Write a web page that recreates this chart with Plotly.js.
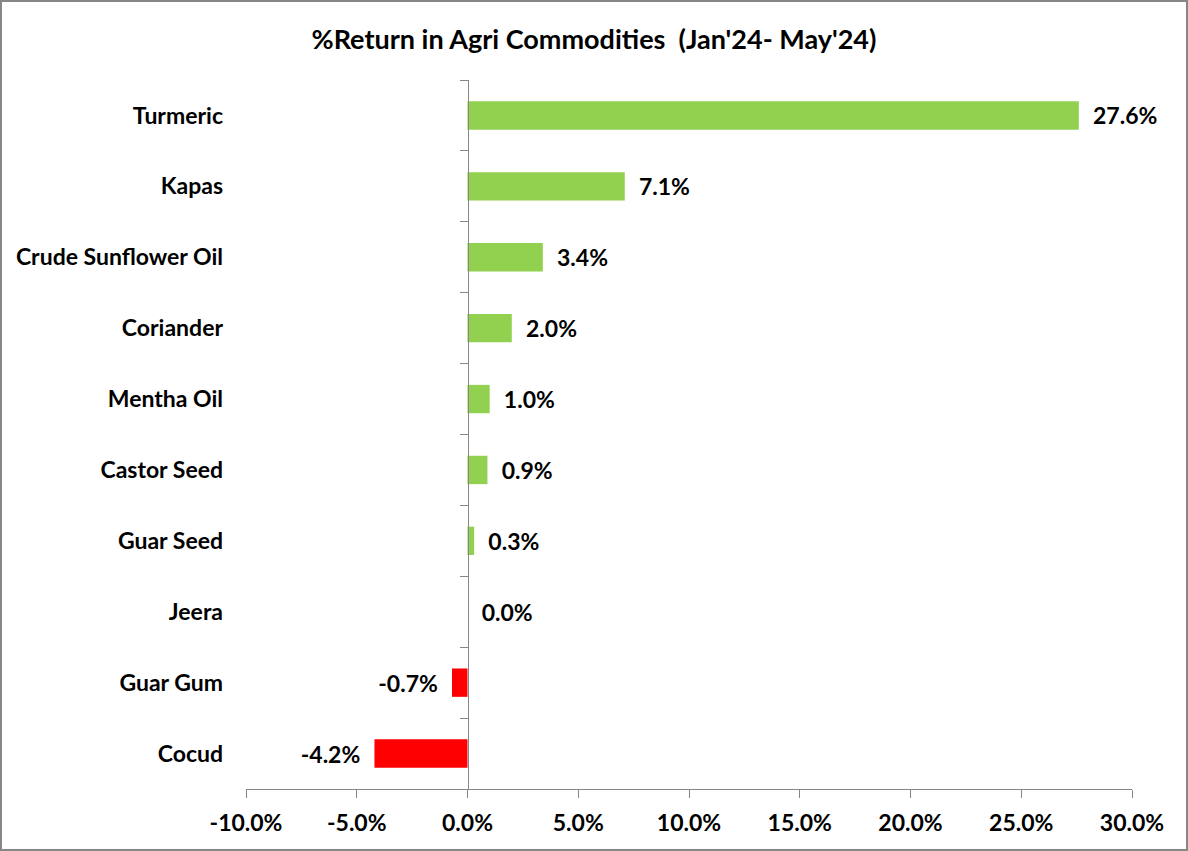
<!DOCTYPE html>
<html>
<head>
<meta charset="utf-8">
<script src="https://cdn.plot.ly/plotly-3.0.1.min.js"></script>
<style>
  html, body { margin: 0; padding: 0; background: #fff; }
  #chart { width: 1188px; height: 851px; box-sizing: border-box; border: 2px solid #878787; }
</style>
</head>
<body>
<div id="chart"></div>
<script>
const categories = ["Turmeric", "Kapas", "Crude Sunflower Oil", "Coriander", "Mentha Oil", "Castor Seed", "Guar Seed", "Jeera", "Guar Gum", "Cocud"];
const returns = [27.6, 7.1, 3.4, 2.0, 1.0, 0.9, 0.3, 0.0, -0.7, -4.2];
const xTicks = [-10, -5, 0, 5, 10, 15, 20, 25, 30];
const titleText = "%Return in Agri Commodities \u00a0(Jan'24- May'24)";

const colors = returns.map(v => v < 0 ? "#FF0000" : "#92D050");
const fontFam = "Lato, 'Open Sans', sans-serif";
const pad = "\u00a0\u00a0";

const traces = [
  {
    type: "bar",
    orientation: "h",
    x: returns,
    y: categories,
    marker: { color: colors },
    text: returns.map(v => v < 0 ? v.toFixed(1) + "%" + pad : pad + v.toFixed(1) + "%"),
    textposition: "outside",
    cliponaxis: false,
    textfont: { family: fontFam, size: 23, color: "#000", weight: "bold" },
    hoverinfo: "skip",
    showlegend: false
  },
  {
    type: "scatter",
    mode: "markers",
    x: returns.map(() => 0),
    y: categories,
    yaxis: "y2",
    marker: { opacity: 0, size: 1 },
    hoverinfo: "skip",
    showlegend: false
  }
];

const layout = {
  width: 1184,
  height: 847,
  margin: { l: 244, r: 54, t: 78, b: 60 },
  paper_bgcolor: "#fff",
  plot_bgcolor: "#fff",
  bargap: 0.6,
  font: { family: fontFam, color: "#000" },
  title: {
    text: "<b>" + titleText + "</b>",
    font: { family: fontFam, size: 27, color: "#000" },
    x: 0.5, xanchor: "center",
    y: 1 - 38 / 847, yref: "container", yanchor: "middle"
  },
  xaxis: {
    range: [-10, 30],
    tickvals: xTicks,
    ticktext: xTicks.map(v => v.toFixed(1) + "%"),
    showgrid: false,
    zeroline: false,
    showline: true,
    linecolor: "#868686",
    linewidth: 1,
    ticks: "outside",
    ticklen: 8,
    tickcolor: "#868686",
    tickfont: { family: fontFam, size: 23, color: "#000", weight: "bold" },
    ticklabelstandoff: 5,
    fixedrange: true
  },
  yaxis: {
    type: "category",
    range: [9.5, -0.5],
    autorange: false,
    showgrid: false,
    zeroline: false,
    showline: false,
    ticks: "",
    tickfont: { family: fontFam, size: 23, color: "#000", weight: "bold" },
    ticklabelstandoff: 22,
    fixedrange: true
  },
  yaxis2: {
    type: "category",
    matches: "y",
    overlaying: "y",
    range: [9.5, -0.5],
    autorange: false,
    anchor: "free",
    position: 0.25,
    side: "left",
    showgrid: false,
    zeroline: false,
    showline: true,
    linecolor: "#868686",
    linewidth: 1,
    ticks: "outside",
    tickson: "boundaries",
    ticklen: 8,
    tickcolor: "#868686",
    showticklabels: false,
    fixedrange: true
  }
};

Plotly.newPlot("chart", traces, layout, { displayModeBar: false, staticPlot: true });
</script>
</body>
</html>
